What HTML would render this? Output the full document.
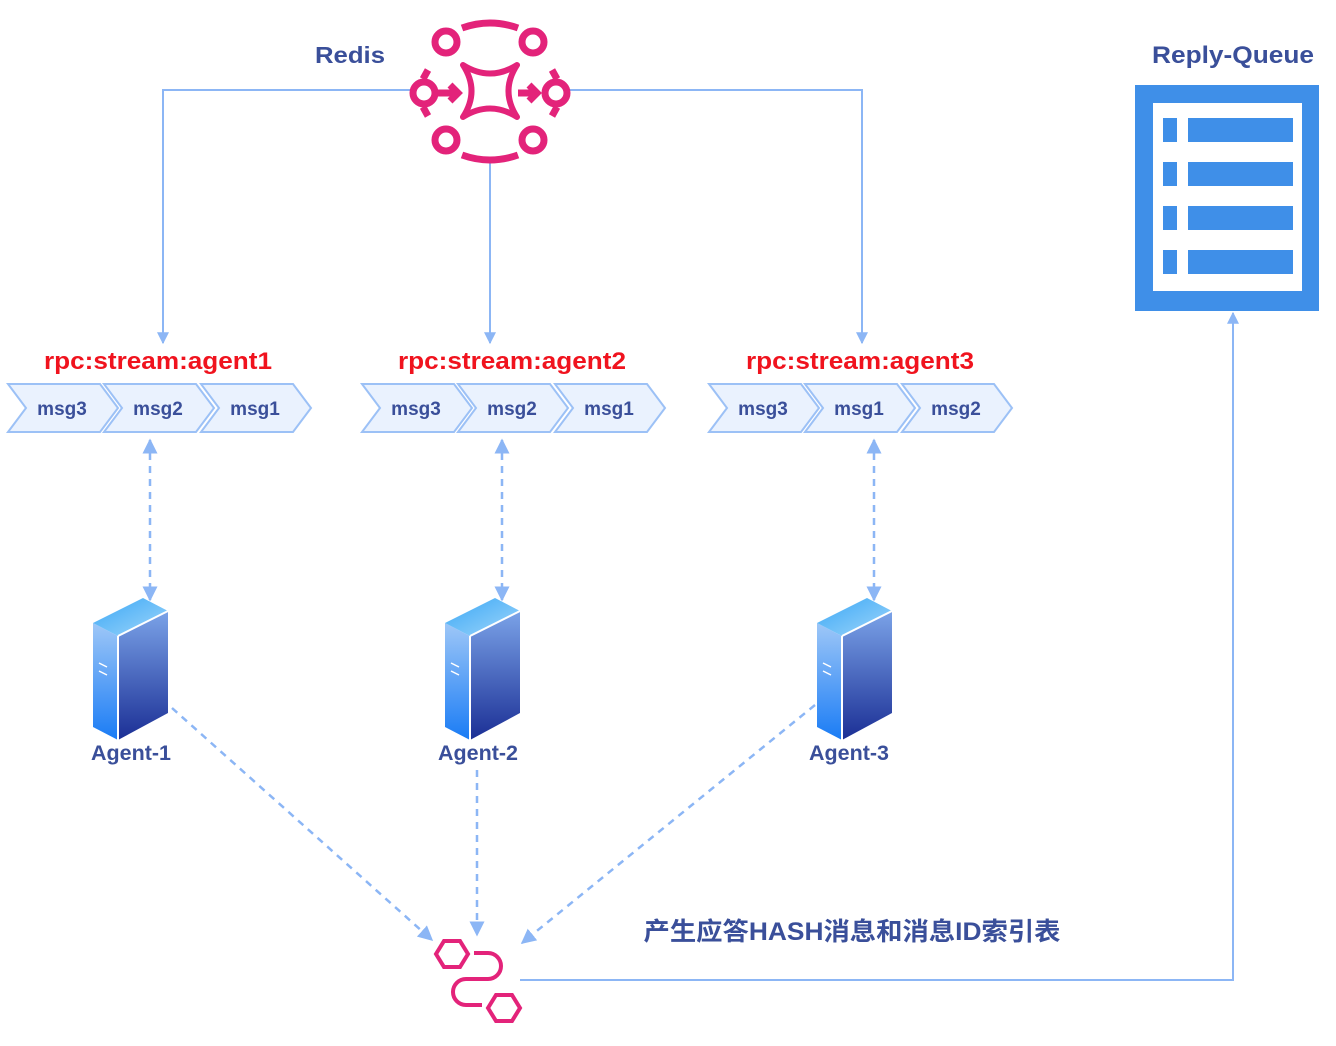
<!DOCTYPE html>
<html><head><meta charset="utf-8"><style>
body{margin:0;background:#fff}
svg{display:block;font-family:"Liberation Sans","Noto Sans CJK SC",sans-serif;font-weight:bold}
</style></head><body>
<svg width="1336" height="1046" viewBox="0 0 1336 1046" xmlns="http://www.w3.org/2000/svg">
<defs>
<marker id="a" viewBox="0 0 10 10" refX="9" refY="5" markerWidth="6" markerHeight="6" orient="auto-start-reverse"><path d="M0,0L10,5L0,10z" fill="#8cb6f5"/></marker>
<linearGradient id="sf" x1="0" y1="0" x2="0" y2="1"><stop offset="0" stop-color="#9ec7f7"/><stop offset="1" stop-color="#1a7cf5"/></linearGradient>
<linearGradient id="sr" x1="0" y1="0" x2="0" y2="1"><stop offset="0" stop-color="#7ba3e8"/><stop offset="1" stop-color="#1b2f95"/></linearGradient>
<linearGradient id="st" x1="0" y1="0" x2="1" y2="1"><stop offset="0" stop-color="#3aa7f5"/><stop offset="1" stop-color="#9fd6fb"/></linearGradient>
<g id="srv">
<path d="M0,20 L25,33 L25,137 L0,124z" fill="url(#sf)"/>
<path d="M25,33 L75,8 L75,110 L25,137z" fill="url(#sr)"/>
<path d="M0,20 L50,-5 L75,8 L25,33z" fill="url(#st)"/>
<path d="M25,33 L75,8" stroke="#fff" stroke-width="2"/>
<path d="M25,33 L25,137" stroke="#fff" stroke-width="2"/>
<path d="M6,60 L14,64 M6,68 L14,72" stroke="#fff" stroke-width="1.5"/>
</g>
<g id="chev"><path d="M0,0 H92 L110,24 L92,48 H0 L18,24z" fill="#eaf2fe" stroke="#9cc1f6" stroke-width="2"/></g>
</defs>
<g fill="none" stroke="#8cb6f5" stroke-width="2">
<path d="M412,90 H163 V343" marker-end="url(#a)"/>
<path d="M568,90 H862 V343" marker-end="url(#a)"/>
<path d="M490,160 V343" marker-end="url(#a)"/>
<path d="M520,980 H1233 V313" marker-end="url(#a)"/>
<g stroke-dasharray="7,6" stroke-width="2.5">
<path d="M150,440 V600" marker-start="url(#a)" marker-end="url(#a)"/>
<path d="M502,440 V600" marker-start="url(#a)" marker-end="url(#a)"/>
<path d="M874,440 V600" marker-start="url(#a)" marker-end="url(#a)"/>
<path d="M172,708 L432,940" marker-end="url(#a)"/>
<path d="M477,770 V935" marker-end="url(#a)"/>
<path d="M815,705 L522,943" marker-end="url(#a)"/>
</g>
</g>
<!-- Redis icon -->
<g fill="none" stroke="#e3237a" stroke-width="7">
<circle cx="446" cy="42" r="11"/><circle cx="533" cy="42" r="11"/>
<circle cx="424" cy="93" r="11"/><circle cx="556" cy="93" r="11"/>
<circle cx="446" cy="140" r="11"/><circle cx="533" cy="140" r="11"/>
<path d="M462,28 Q490,18 518,28"/><path d="M462,155 Q490,165 518,155"/>
<path d="M428,70 L423,79 M428,116 L423,107 M552,70 L557,79 M552,116 L557,107"/>
<path d="M463,65 Q490,82 517,65 Q500,91 517,117 Q490,100 463,117 Q480,91 463,65z" stroke-width="6" stroke-linejoin="round"/>
<path d="M435,93 H456 M450,85 L458,93 L450,101 M518,93 H535 M529,85 L537,93 L529,101"/>
</g>
<text x="350" y="63" font-size="23" fill="#3a4f9a" text-anchor="middle" textLength="70" lengthAdjust="spacingAndGlyphs">Redis</text>
<!-- streams -->
<g font-size="24" fill="#f0131e" text-anchor="middle">
<text x="158" y="369" textLength="228" lengthAdjust="spacingAndGlyphs">rpc:stream:agent1</text>
<text x="512" y="369" textLength="228" lengthAdjust="spacingAndGlyphs">rpc:stream:agent2</text>
<text x="860" y="369" textLength="228" lengthAdjust="spacingAndGlyphs">rpc:stream:agent3</text>
</g>
<g font-size="19" fill="#3a4f9a" text-anchor="middle">
<use href="#chev" x="8" y="384"/><use href="#chev" x="104" y="384"/><use href="#chev" x="201" y="384"/>
<text x="62" y="415">msg3</text><text x="158" y="415">msg2</text><text x="255" y="415">msg1</text>
<use href="#chev" x="362" y="384"/><use href="#chev" x="458" y="384"/><use href="#chev" x="555" y="384"/>
<text x="416" y="415">msg3</text><text x="512" y="415">msg2</text><text x="609" y="415">msg1</text>
<use href="#chev" x="709" y="384"/><use href="#chev" x="805" y="384"/><use href="#chev" x="902" y="384"/>
<text x="763" y="415">msg3</text><text x="859" y="415">msg1</text><text x="956" y="415">msg2</text>
</g>
<use href="#srv" x="93" y="603"/><use href="#srv" x="445" y="603"/><use href="#srv" x="817" y="603"/>
<g font-size="21" fill="#3a4f9a" text-anchor="middle">
<text x="131" y="760" textLength="80" lengthAdjust="spacingAndGlyphs">Agent-1</text><text x="478" y="760" textLength="80" lengthAdjust="spacingAndGlyphs">Agent-2</text><text x="849" y="760" textLength="80" lengthAdjust="spacingAndGlyphs">Agent-3</text>
<text x="1233" y="63" font-size="24" textLength="162" lengthAdjust="spacingAndGlyphs">Reply-Queue</text>
<text x="852" y="940" font-size="25" textLength="417" lengthAdjust="spacingAndGlyphs">产生应答HASH消息和消息ID索引表</text>
</g>
<!-- reply queue -->
<rect x="1135" y="85" width="184" height="226" fill="#3f8fe8"/>
<rect x="1153" y="103" width="149" height="188" fill="#fff"/>
<g fill="#3f8fe8">
<rect x="1163" y="118" width="14" height="24"/><rect x="1188" y="118" width="105" height="24"/>
<rect x="1163" y="162" width="14" height="24"/><rect x="1188" y="162" width="105" height="24"/>
<rect x="1163" y="206" width="14" height="24"/><rect x="1188" y="206" width="105" height="24"/>
<rect x="1163" y="250" width="14" height="24"/><rect x="1188" y="250" width="105" height="24"/>
</g>
<!-- bottom icon -->
<g fill="none" stroke="#e3237a" stroke-width="4">
<path d="M444,941 H460 L468,954 L460,967 H444 L436,954z"/>
<path d="M496,995 H512 L520,1008 L512,1021 H496 L488,1008z"/>
<path d="M474,953 H488 A13,13 0 0 1 488,979 H466 A13,13 0 0 0 466,1005 H482"/>
</g>
</svg>
</body></html>
